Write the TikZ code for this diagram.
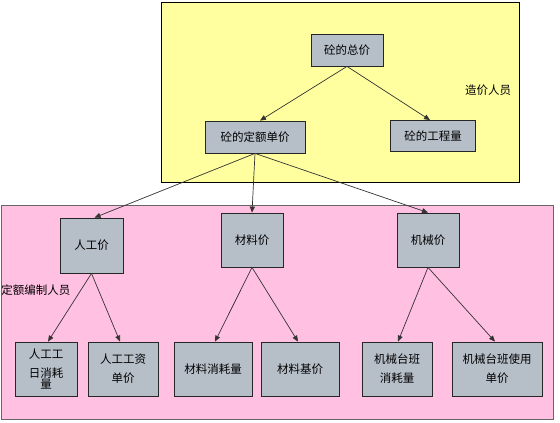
\documentclass[tikz,border=0pt]{standalone}
\usepackage{fontspec}
\setmainfont{Noto Sans CJK SC}
\usetikzlibrary{arrows.meta}
\begin{document}
\begin{tikzpicture}[x=1pt,y=-1pt,
  box/.style={draw=black!85,line width=0.8pt,fill=boxgray,minimum width=#1,inner sep=1pt,align=center,font=\fontsize{11.5}{19}\selectfont},
  arr/.style={-{Triangle[length=6pt,width=5pt]},line width=0.7pt,draw=black!80},
  lbl/.style={font=\fontsize{11.5}{13}\selectfont,inner sep=0pt}]
\definecolor{boxgray}{RGB}{182,190,200}
\definecolor{yel}{RGB}{255,255,160}
\definecolor{pnk}{RGB}{255,192,226}
\useasboundingbox (0,0) rectangle (560,423);
\fill[white] (0,0) rectangle (560,423);
\draw[fill=yel,line width=0.8pt] (161,2) rectangle (519,182);
\draw[fill=pnk,draw=black!60,line width=0.8pt] (1,205) rectangle (553,419);
\node[lbl] (zj) at (488,90) {造价人员};
\node[lbl] (de) at (36,290) {定额编制人员};
\node[box=72pt,minimum height=32pt] (zong) at (347,50) {砼的总价};
\node[box=100pt,minimum height=32pt] (dan) at (255,137) {砼的定额单价};
\node[box=85pt,minimum height=31pt] (gcl) at (433,136) {砼的工程量};
\node[box=63pt,minimum height=55pt] (rg) at (91.5,245.5) {人工价};
\node[box=62pt,minimum height=54pt] (cl) at (252,240) {材料价};
\node[box=62pt,minimum height=54pt] (jx) at (428,240) {机械价};
\node[box=62pt,minimum height=54pt] (rg1) at (46,369) {人工工\\[-1pt]日消耗\\[-8pt]量};
\node[box=70pt,minimum height=54pt] (rg2) at (123,369) {人工工资\\单价};
\node[box=78pt,minimum height=54pt] (cl1) at (213,369) {材料消耗量};
\node[box=78pt,minimum height=54pt] (cl2) at (300,369) {材料基价};
\node[box=70pt,minimum height=54pt] (jx1) at (397,369) {机械台班\\消耗量};
\node[box=90pt,minimum height=54pt] (jx2) at (497,369) {机械台班使用\\单价};
\draw[arr] (zong.south) -- ([xshift=5pt]dan.north);
\draw[arr] (zong.south) -- ([xshift=-3pt]gcl.north);
\draw[arr] (dan.south) -- ([xshift=3pt]rg.north);
\draw[arr] (dan.south) -- (cl.north);
\draw[arr] (dan.south) -- (jx.north);
\draw[arr] (rg.south) -- ([xshift=2pt]rg1.north);
\draw[arr] (rg.south) -- ([xshift=-3pt]rg2.north);
\draw[arr] (cl.south) -- ([xshift=2pt]cl1.north);
\draw[arr] (cl.south) -- ([xshift=-2pt]cl2.north);
\draw[arr] (jx.south) -- ([xshift=1pt]jx1.north);
\draw[arr] (jx.south) -- ([xshift=-2pt]jx2.north);
\end{tikzpicture}
\end{document}
